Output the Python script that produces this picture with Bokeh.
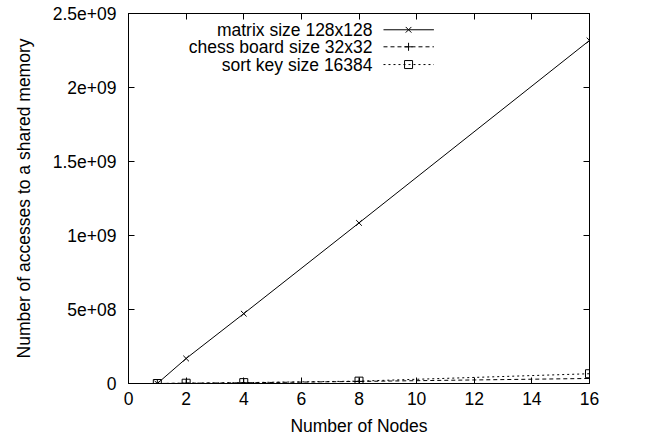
from bokeh.plotting import figure
from bokeh.models import FixedTicker, LinearAxis, Range1d, CustomLabelingPolicy
from bokeh.embed import file_html
from bokeh.resources import INLINE
from bokeh.core.properties import value

# data
nodes = [1, 2, 4, 8, 16]
matrix_128 = [0, 1.69e8, 4.72e8, 1.085e9, 2.318e9]
chess_32 = [0, 2.0e6, 5.0e6, 1.4e7, 3.4e7]
sort_16384 = [0, 2.0e6, 6.0e6, 1.6e7, 6.6e7]
series_names = ["matrix size 128x128", "chess board size 32x32", "sort key size 16384"]
x_ticks = [0, 2, 4, 6, 8, 10, 12, 14, 16]
y_ticks = [0, 5e8, 1e9, 1.5e9, 2e9, 2.5e9]
y_tick_labels = ["0", "5e+08", "1e+09", "1.5e+09", "2e+09", "2.5e+09"]

FONT = "Liberation Sans"
FS = "17.5px"

p = figure(width=648, height=441, output_backend="svg", toolbar_location=None,
           x_range=Range1d(0, 16), y_range=Range1d(0, 2.5e9),
           min_border_left=128, min_border_right=59, min_border_top=13, min_border_bottom=58)
p.grid.visible = False
p.outline_line_color = "black"
p.outline_line_width = 1
p.background_fill_color = "white"
p.border_fill_color = "white"

no_labels = CustomLabelingPolicy(code="""
for (const i of indices)
    indices.unset(i)
""")

def style_axis(ax, ticks, show_labels=True):
    ax.ticker = FixedTicker(ticks=ticks)
    ax.major_tick_in = 6
    ax.major_tick_out = 0
    ax.minor_tick_line_color = None
    ax.axis_line_color = "black"
    ax.major_tick_line_color = "black"
    ax.major_label_text_font = FONT
    ax.major_label_text_font_size = FS
    ax.major_label_text_color = "black"
    ax.axis_label_text_font = FONT
    ax.axis_label_text_font_size = FS
    ax.axis_label_text_font_style = "normal"
    ax.axis_label_text_color = "black"
    if not show_labels:
        ax.major_label_policy = no_labels
        ax.major_label_text_font_size = "0px"
        ax.major_label_standoff = 0

style_axis(p.xaxis[0], x_ticks)
style_axis(p.yaxis[0], y_ticks)
p.yaxis[0].major_label_overrides = {t: l for t, l in zip(y_ticks, y_tick_labels)}
p.xaxis[0].axis_label = "Number of Nodes"
p.yaxis[0].axis_label = "Number of accesses to a shared memory"
p.xaxis[0].major_label_standoff = 8
p.yaxis[0].major_label_standoff = 12
p.xaxis[0].axis_label_standoff = 8
p.yaxis[0].axis_label_standoff = 16

top = LinearAxis(); style_axis(top, x_ticks, False)
right = LinearAxis(); style_axis(right, y_ticks, False)
p.add_layout(top, "above")
p.add_layout(right, "right")

# series
p.line(nodes, matrix_128, line_color="black", line_width=1)
p.scatter(nodes, matrix_128, marker="x", size=8, line_color="black", line_width=1)
p.line(nodes, chess_32, line_color="black", line_width=1, line_dash="4 3")
p.scatter(nodes, chess_32, marker="cross", size=8, line_color="black", line_width=1)
p.line(nodes, sort_16384, line_color="black", line_width=1, line_dash="2 3")
p.scatter(nodes, sort_16384, marker="square", size=8, line_color="black", fill_color=None, line_width=1)

# gnuplot-style legend (text right aligned, sample to the right)
leg_text_x = 8.47
leg_x0, leg_x1, leg_xm = 8.85, 10.6, 9.72
leg_rows = [2.39e9, 2.275e9, 2.155e9]
dashes = ["solid", "4 3", "2 3"]
markers = ["x", "cross", "square"]
p.text(x=[leg_text_x] * 3, y=leg_rows, text=series_names, text_align="right",
       text_baseline="middle", text_font=value(FONT), text_font_size=FS, text_color="black")
for yy, d, m in zip(leg_rows, dashes, markers):
    p.line([leg_x0, leg_x1], [yy, yy], line_color="black", line_width=1, line_dash=d)
    p.scatter([leg_xm], [yy], marker=m, size=8, line_color="black", fill_color=None, line_width=1)

open("out.html", "w").write(file_html(p, INLINE))
